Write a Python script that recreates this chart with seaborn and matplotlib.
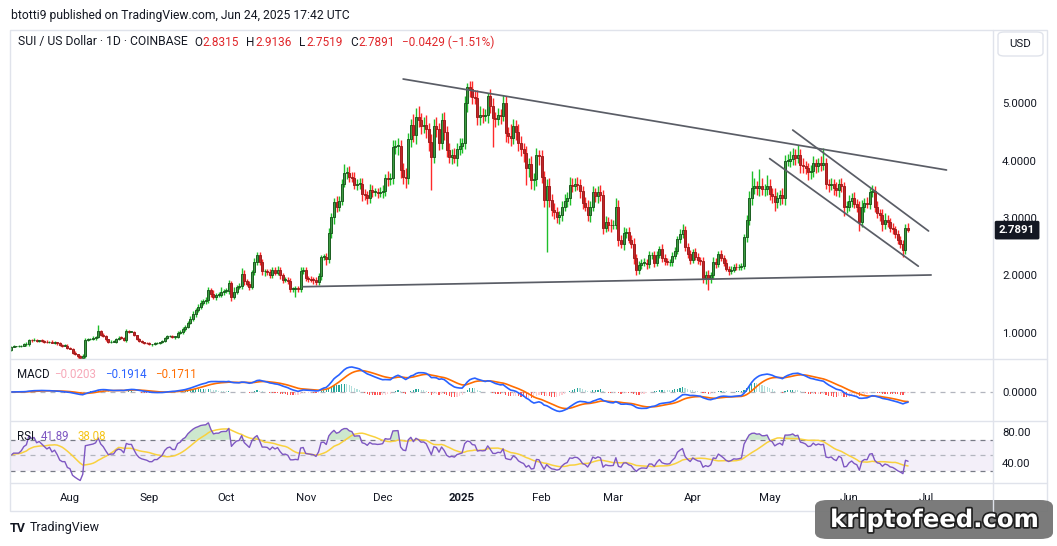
import numpy as np
import pandas as pd
import matplotlib
matplotlib.use("Agg")
import matplotlib.pyplot as plt
import matplotlib.transforms as mtransforms
import matplotlib.patheffects as pe
from matplotlib.patches import FancyBboxPatch, Rectangle
from matplotlib.lines import Line2D
import seaborn as sns

# ------------------------------------------------------------------ data
start_date = "2024-07-09"
first_open = 0.70

close_jul = [0.76,0.77,0.77,0.77,0.78,0.80,0.81,0.88,0.87,0.88,0.86,0.87,0.86,0.85,0.84,0.85,0.83,0.84,0.82,0.79,0.78,0.78,0.74]
close_aug = [0.73,0.66,0.63,0.60,0.57,0.60,0.88,0.89,0.90,0.91,0.93,1.03,0.97,0.94,0.89,0.84,0.85,0.85,0.90,0.92,0.91,0.88,1.03,1.02,1.02,0.96,0.90,0.86,0.84,0.83,0.82]
close_sep = [0.80,0.80,0.82,0.82,0.84,0.86,0.91,0.94,0.95,0.93,0.93,1.00,1.02,1.07,1.10,1.18,1.25,1.33,1.40,1.45,1.52,1.55,1.57,1.75,1.68,1.63,1.66,1.66,1.72,1.73]
close_oct = [1.73,1.87,1.63,1.72,1.80,1.82,2.03,1.90,1.85,1.80,2.06,2.24,2.36,2.24,2.07,2.07,2.06,2.00,2.10,2.05,2.10,2.00,1.92,1.93,1.90,1.77,1.77,1.78,1.77,2.08,2.10]
close_nov = [1.95,1.94,1.93,1.92,1.88,1.99,2.32,2.33,2.28,2.74,3.02,3.28,3.20,3.30,3.60,3.78,3.78,3.72,3.70,3.58,3.60,3.60,3.42,3.40,3.35,3.49,3.45,3.45,3.44,3.45]
close_dec = [3.47,3.69,3.68,3.69,4.23,4.25,4.26,3.83,3.72,3.70,4.37,4.61,4.44,4.76,4.70,4.60,4.62,4.55,4.32,4.06,4.60,4.55,4.30,4.70,4.50,4.18,4.06,4.10,4.05,4.20,4.25]
close_jan = [4.30,5.00,5.28,5.25,5.10,5.08,4.76,4.80,4.78,4.80,5.12,4.95,4.74,4.73,4.80,4.78,5.00,4.48,4.43,4.40,4.60,4.50,4.30,4.20,4.13,3.87,3.94,3.66,3.68,4.09,4.07]
close_feb = [3.71,3.31,3.55,3.31,3.14,3.10,3.02,3.05,3.20,3.30,3.35,3.57,3.55,3.60,3.58,3.47,3.26,3.20,3.05,3.20,3.45,3.38,3.45,3.40,2.83,2.93,2.88,2.87]
close_mar = [2.88,3.19,2.62,2.55,2.74,2.75,2.62,2.55,2.30,2.09,2.18,2.22,2.22,2.20,2.35,2.35,2.22,2.36,2.46,2.30,2.25,2.23,2.24,2.34,2.42,2.63,2.72,2.79,2.50,2.37,2.27]
close_apr = [2.40,2.33,2.27,2.25,1.95,2.00,1.95,2.00,2.23,2.20,2.37,2.30,2.22,2.12,2.07,2.10,2.15,2.14,2.15,2.17,2.67,2.97,3.35,3.52,3.55,3.52,3.55,3.50,3.50,3.55]
close_may = [3.42,3.38,3.27,3.35,3.40,3.35,4.00,4.00,4.02,4.10,4.05,4.10,3.92,3.90,3.87,3.80,3.82,3.95,3.90,3.95,3.93,3.95,3.60,3.58,3.60,3.52,3.48,3.60,3.55,3.19,3.20]
close_jun = [3.30,3.35,3.25,3.20,2.93,3.20,3.26,3.25,3.45,3.47,3.20,3.08,3.05,2.90,2.97,2.93,2.83,2.80,2.72,2.62,2.55,2.45,2.8315,2.7891]

wick_up_jul = [0.01,0.02,0.01,0.02,0.01,0.02,0.03,0.02,0.02,0.03,0.02,0.01,0.02,0.02,0.03,0.01,0.02,0.02,0.01,0.02,0.01,0.02,0.02]
wick_dn_jul = [0.02,0.01,0.02,0.01,0.02,0.01,0.02,0.03,0.02,0.01,0.02,0.02,0.01,0.03,0.02,0.02,0.01,0.02,0.03,0.01,0.02,0.01,0.02]
wick_up_aug = [0.02,0.01,0.02,0.01,0.02,0.03,0.03,0.02,0.02,0.03,0.02,0.11,0.02,0.03,0.02,0.01,0.02,0.03,0.02,0.03,0.02,0.02,0.04,0.03,0.02,0.02,0.01,0.02,0.02,0.01,0.02]
wick_dn_aug = [0.01,0.02,0.02,0.03,0.04,0.02,0.03,0.02,0.01,0.02,0.03,0.02,0.02,0.01,0.03,0.02,0.02,0.01,0.03,0.02,0.02,0.02,0.03,0.02,0.01,0.02,0.03,0.02,0.01,0.02,0.02]
wick_up_sep = [0.02,0.01,0.02,0.02,0.01,0.02,0.02,0.03,0.02,0.01,0.02,0.04,0.03,0.03,0.04,0.03,0.04,0.05,0.04,0.06,0.05,0.04,0.06,0.05,0.04,0.06,0.03,0.05,0.08,0.04]
wick_dn_sep = [0.01,0.02,0.01,0.02,0.02,0.01,0.02,0.02,0.01,0.02,0.03,0.02,0.02,0.04,0.03,0.02,0.03,0.04,0.05,0.04,0.03,0.04,0.05,0.04,0.06,0.04,0.05,0.03,0.04,0.06]
wick_up_oct = [0.05,0.06,0.04,0.08,0.04,0.05,0.10,0.06,0.04,0.05,0.04,0.06,0.04,0.05,0.04,0.05,0.04,0.06,0.05,0.04,0.06,0.05,0.04,0.05,0.04,0.05,0.03,0.04,0.03,0.06,0.05]
wick_dn_oct = [0.04,0.05,0.08,0.04,0.05,0.04,0.05,0.06,0.04,0.05,0.04,0.05,0.06,0.05,0.06,0.08,0.05,0.04,0.05,0.04,0.05,0.06,0.05,0.04,0.05,0.06,0.05,0.14,0.05,0.06,0.05]
wick_up_nov = [0.05,0.04,0.05,0.04,0.05,0.06,0.04,0.05,0.06,0.08,0.07,0.06,0.10,0.08,0.07,0.16,0.10,0.12,0.08,0.10,0.08,0.09,0.10,0.08,0.07,0.10,0.09,0.08,0.07,0.09]
wick_dn_nov = [0.04,0.05,0.04,0.06,0.05,0.04,0.06,0.05,0.10,0.06,0.08,0.12,0.10,0.08,0.07,0.06,0.10,0.09,0.08,0.07,0.10,0.09,0.12,0.08,0.10,0.09,0.08,0.07,0.09,0.08]
wick_up_dec = [0.10,0.08,0.12,0.10,0.12,0.10,0.14,0.10,0.12,0.15,0.10,0.12,0.20,0.15,0.18,0.12,0.14,0.18,0.10,0.14,0.12,0.15,0.10,0.12,0.14,0.10,0.12,0.10,0.12,0.10,0.14]
wick_dn_dec = [0.10,0.08,0.12,0.10,0.10,0.12,0.15,0.14,0.12,0.18,0.10,0.14,0.12,0.15,0.12,0.14,0.12,0.16,0.15,0.57,0.10,0.14,0.12,0.10,0.14,0.12,0.10,0.12,0.10,0.14,0.10]
wick_up_jan = [0.10,0.12,0.07,0.10,0.14,0.12,0.15,0.14,0.12,0.10,0.05,0.12,0.14,0.10,0.12,0.10,0.14,0.12,0.10,0.20,0.12,0.10,0.14,0.12,0.10,0.12,0.10,0.14,0.10,0.12,0.10]
wick_dn_jan = [0.12,0.10,0.15,0.14,0.12,0.10,0.15,0.14,0.12,0.10,0.14,0.12,0.50,0.15,0.12,0.14,0.10,0.15,0.12,0.14,0.12,0.15,0.14,0.12,0.15,0.30,0.15,0.15,0.17,0.12,0.15]
wick_up_feb = [0.12,0.10,0.12,0.14,0.10,0.12,0.10,0.08,0.10,0.12,0.10,0.14,0.12,0.10,0.12,0.10,0.08,0.10,0.12,0.10,0.10,0.08,0.10,0.12,0.08,0.10,0.08,0.10]
wick_dn_feb = [0.10,0.12,0.90,0.12,0.10,0.12,0.10,0.12,0.10,0.08,0.10,0.12,0.10,0.08,0.10,0.12,0.10,0.08,0.10,0.12,0.08,0.10,0.12,0.10,0.10,0.08,0.10,0.12]
wick_up_mar = [0.08,0.15,0.12,0.08,0.10,0.08,0.10,0.08,0.10,0.08,0.07,0.06,0.08,0.06,0.07,0.06,0.08,0.07,0.06,0.08,0.07,0.06,0.05,0.06,0.07,0.06,0.08,0.10,0.07,0.06,0.08]
wick_dn_mar = [0.06,0.08,0.10,0.08,0.10,0.08,0.06,0.08,0.10,0.08,0.06,0.07,0.06,0.08,0.07,0.06,0.07,0.06,0.05,0.07,0.06,0.05,0.06,0.07,0.06,0.05,0.07,0.06,0.07,0.06,0.07]
wick_up_apr = [0.06,0.07,0.06,0.05,0.07,0.08,0.10,0.06,0.10,0.08,0.06,0.07,0.05,0.06,0.05,0.06,0.05,0.06,0.05,0.04,0.05,0.08,0.12,0.30,0.14,0.10,0.30,0.14,0.10,0.20]
wick_dn_apr = [0.05,0.06,0.07,0.06,0.08,0.10,0.20,0.08,0.06,0.07,0.06,0.05,0.06,0.05,0.06,0.05,0.04,0.05,0.04,0.05,0.06,0.08,0.10,0.12,0.10,0.12,0.14,0.10,0.12,0.10]
wick_up_may = [0.12,0.10,0.14,0.10,0.08,0.12,0.10,0.12,0.15,0.12,0.10,0.17,0.10,0.12,0.10,0.08,0.10,0.12,0.08,0.10,0.12,0.27,0.10,0.08,0.10,0.08,0.10,0.08,0.10,0.08,0.10]
wick_dn_may = [0.10,0.12,0.15,0.10,0.12,0.10,0.12,0.10,0.12,0.10,0.12,0.10,0.14,0.12,0.10,0.14,0.12,0.10,0.12,0.10,0.12,0.10,0.10,0.12,0.10,0.12,0.10,0.12,0.10,0.15,0.10]
wick_up_jun = [0.10,0.08,0.10,0.08,0.10,0.12,0.08,0.10,0.08,0.10,0.08,0.10,0.08,0.10,0.12,0.08,0.07,0.08,0.06,0.07,0.06,0.07,0.06,0.0821]
wick_dn_jun = [0.08,0.10,0.08,0.10,0.15,0.08,0.10,0.08,0.10,0.08,0.10,0.08,0.10,0.12,0.10,0.08,0.07,0.08,0.06,0.07,0.08,0.13,0.08,0.0372]

month_labels = ["Aug", "Sep", "Oct", "Nov", "Dec", "2025", "Feb", "Mar", "Apr", "May", "Jun", "Jul"]
month_dates = ["2024-08-01", "2024-09-01", "2024-10-01", "2024-11-01", "2024-12-01", "2025-01-01",
               "2025-02-01", "2025-03-01", "2025-04-01", "2025-05-01", "2025-06-01", "2025-07-01"]
price_ticks = [1, 2, 3, 4, 5]
rsi_ticks = [40, 80]

# drawn trend lines: (start date, end date) and (start price, end price)
trend_dates = [("2024-12-09", "2025-07-09"), ("2024-10-31", "2025-07-03"),
               ("2025-05-10", "2025-07-02"), ("2025-05-01", "2025-06-28")]
trend_prices = [(5.417, 3.835), (1.805, 2.009), (4.53, 2.774), (4.033, 2.162)]

header_text = "btotti9 published on TradingView.com, Jun 24, 2025 17:42 UTC"
symbol_text = "SUI / US Dollar · 1D · COINBASE"
ohlc_labels = ["O", "H", "L", "C"]
ohlc_values = ["2.8315", "2.9136", "2.7519", "2.7891"]
change_text = "−0.0429 (−1.51%)"
last_price = 2.7891
macd_values = ["−0.0203", "−0.1914", "−0.1711"]
rsi_values = ["41.89", "38.08"]

# ------------------------------------------------------------------ series
closes = np.array(close_jul + close_aug + close_sep + close_oct + close_nov + close_dec +
                  close_jan + close_feb + close_mar + close_apr + close_may + close_jun)
wick_up = np.array(wick_up_jul + wick_up_aug + wick_up_sep + wick_up_oct + wick_up_nov + wick_up_dec +
                   wick_up_jan + wick_up_feb + wick_up_mar + wick_up_apr + wick_up_may + wick_up_jun)
wick_dn = np.array(wick_dn_jul + wick_dn_aug + wick_dn_sep + wick_dn_oct + wick_dn_nov + wick_dn_dec +
                   wick_dn_jan + wick_dn_feb + wick_dn_mar + wick_dn_apr + wick_dn_may + wick_dn_jun)
opens = np.r_[first_open, closes[:-1]]
highs = np.maximum(opens, closes) + wick_up
lows = np.minimum(opens, closes) - wick_dn
t0 = pd.Timestamp(start_date)
idx = np.arange(len(closes))

def day(d):
    return (pd.Timestamp(d) - t0).days

s = pd.Series(closes)
macd = s.ewm(span=12, adjust=False).mean() - s.ewm(span=26, adjust=False).mean()
signal = macd.ewm(span=9, adjust=False).mean()
hist = macd - signal

# Wilder RSI(14), seeded neutral from the first two weeks of moves
delta = np.r_[0.0, np.diff(closes)]
gains = np.clip(delta, 0, None)
losses = np.clip(-delta, 0, None)
seed = np.abs(delta[1:15]).mean() / 2
ag, al = seed, seed
rsi_list = []
for g, l in zip(gains, losses):
    ag = (ag * 13 + g) / 14
    al = (al * 13 + l) / 14
    rsi_list.append(100 - 100 / (1 + ag / al))
rsi = pd.Series(rsi_list)
rsi_ma = rsi.rolling(14, min_periods=1).mean()

# ------------------------------------------------------------------ figure
W, H = 1057, 546
sns.set_theme(style="white")
plt.rcParams['font.family'] = ['Roboto', 'DejaVu Sans']
plt.rcParams['axes.unicode_minus'] = True
TXT = '#131722'
LINE = '#e0e3eb'

fig = plt.figure(figsize=(W / 100, H / 100), dpi=100)
fig.patch.set_facecolor('white')
renderer = fig.canvas.get_renderer()

def axes_px(x0, y0, x1, y1):
    return fig.add_axes([x0 / W, 1 - y1 / H, (x1 - x0) / W, (y1 - y0) / H])

def fpt(x, y):
    return x / W, 1 - y / H

def text_row(x, y, parts, size, gap_after):
    """Place coloured text pieces one after another (pixel layout)."""
    for (txt, col), gap in zip(parts, gap_after):
        t = fig.text(*fpt(x, y), txt, ha='left', va='center', fontsize=size, color=col)
        bb = t.get_window_extent(renderer=renderer)
        x = x + bb.width + gap

PL, PR = 10, 993
ax = axes_px(PL, 30, PR, 359)
axm = axes_px(PL, 359, PR, 421)
axr = axes_px(PL, 421, PR, 483)

x_left = (PL - 11) / 2.563
x_right = (PR - 11) / 2.563
for a in (ax, axm, axr):
    a.set_facecolor('none')
    a.set_xlim(x_left, x_right)
    for sp in a.spines.values():
        sp.set_visible(False)
    a.grid(False)
    a.yaxis.tick_right()
    a.tick_params(axis='y', length=0, pad=6.5, labelsize=8.2, labelcolor=TXT,
                  labelleft=False, labelright=True)
    a.tick_params(axis='x', length=0, labelbottom=False)

# ---- price pane
ax.set_ylim(0.5478, 6.2696)
ax.set_yticks(price_ticks)
ax.set_yticklabels([f"{v:.4f}" for v in price_ticks])

up = closes >= opens
wick_col = np.where(up, '#1fbf2a', '#ff2a2a')
body_col = np.where(up, '#3f9c44', '#c0262a')
edge_col = np.where(up, '#1b5e20', '#a31d1d')
ax.vlines(idx, lows, highs, colors=wick_col, linewidth=1.0, zorder=2)
body_lo = np.minimum(opens, closes)
body_h = np.maximum(np.abs(closes - opens), 0.012)
ax.bar(idx, body_h, bottom=body_lo, width=0.78, color=body_col, edgecolor=edge_col,
       linewidth=0.7, zorder=3)

for (d0, d1), (p0, p1) in zip(trend_dates, trend_prices):
    ax.plot([day(d0), day(d1)], [p0, p1], color='#5a5d66', linewidth=1.25, zorder=4,
            solid_capstyle='round')

blend = mtransforms.blended_transform_factory(ax.transAxes, ax.transData)
ax.text((999 - PL) / (PR - PL), last_price, f"{last_price:.4f}", transform=blend, ha='left',
        va='center', color='white', fontsize=8.2, fontweight='bold', zorder=10,
        bbox=dict(boxstyle='round,pad=0.38,rounding_size=0.15', fc=TXT, ec='none'),
        clip_on=False)

# ---- MACD pane
mx = max(macd.max(), signal.max(), hist.max())
mn = min(macd.min(), signal.min(), hist.min())
sc = max(mx / (392 - 367), -mn / (413 - 392))
axm.set_ylim(-(421 - 392) * sc, (392 - 359) * sc)
axm.set_yticks([0])
axm.set_yticklabels(["0.0000"])
axm.axhline(0, color='#b2b5be', linewidth=0.9, dashes=(4, 4), zorder=1)
prev = hist.shift(1).fillna(0)
hcol = np.where(hist >= 0, np.where(hist > prev, '#26a69a', '#b2dfdb'),
                np.where(hist < prev, '#ff5252', '#ffcdd2'))
axm.bar(idx, hist.values, width=0.45, color=hcol, linewidth=0, zorder=2)
sns.lineplot(x=idx, y=macd.values, ax=axm, color='#2962ff', linewidth=1.2, zorder=4)
sns.lineplot(x=idx, y=signal.values, ax=axm, color='#ff6d00', linewidth=1.2, zorder=3)
axm.set_xlabel('')
axm.set_ylabel('')

# ---- RSI pane
axr.set_ylim(14.2, 94.2)
axr.set_yticks(rsi_ticks)
axr.set_yticklabels([f"{v:.2f}" for v in rsi_ticks])
axr.axhspan(30, 70, color='#7e57c2', alpha=0.09, linewidth=0, zorder=0)
axr.axhline(70, color='#787b86', linewidth=0.9, dashes=(4, 4), zorder=1)
axr.axhline(50, color='#b2b5be', linewidth=0.9, dashes=(4, 4), zorder=1)
axr.axhline(30, color='#787b86', linewidth=0.9, dashes=(4, 4), zorder=1)
rv = rsi.values
axr.fill_between(idx, 70, rv, where=rv > 70, interpolate=True, color='#a5d6a7', alpha=0.55,
                 linewidth=0, zorder=1)
sns.lineplot(x=idx, y=rsi_ma.values, ax=axr, color='#f9d13e', linewidth=1.1, zorder=3)
sns.lineplot(x=idx, y=rv, ax=axr, color='#7e57c2', linewidth=1.0, zorder=4)
axr.set_xlabel('')
axr.set_ylabel('')
axr.set_xticks([day(d) for d in month_dates])
axr.set_xticklabels(month_labels)
axr.tick_params(axis='x', length=0, pad=7, labelsize=8.2, labelcolor=TXT, labelbottom=True)
for lab in axr.get_xticklabels():
    if lab.get_text() == "2025":
        lab.set_fontweight('bold')

# ---- frame & separators
fig.add_artist(Rectangle(fpt(10, 511), (1047 - 10) / W, (511 - 30) / H, transform=fig.transFigure,
                         fill=False, ec=LINE, lw=1.0))
for yy in (359, 421, 483):
    fig.add_artist(Line2D([10 / W, 1047 / W], [1 - yy / H] * 2, color=LINE, lw=1.0))
fig.add_artist(Line2D([PR / W, PR / W], [1 - 30 / H, 1 - 511 / H], color=LINE, lw=1.0))

# USD box
fig.add_artist(FancyBboxPatch(fpt(998, 56), 45 / W, 24 / H, transform=fig.transFigure,
                              boxstyle='round,pad=0,rounding_size=0.006', fc='white',
                              ec=LINE, lw=1.0))
fig.text(*fpt(1020.5, 44), "USD", ha='center', va='center', fontsize=8.2, color=TXT)

# header / legends
RED = '#e0262a'
fig.text(*fpt(11, 15), header_text, ha='left', va='center', fontsize=8.7, color=TXT)
fig.text(*fpt(18, 42), symbol_text, ha='left', va='center', fontsize=8.7, color=TXT)
row = []
gaps = []
for lab, val in zip(ohlc_labels, ohlc_values):
    row += [(lab, TXT), (val, RED)]
    gaps += [0.5, 7.5]
row.append((change_text, RED))
gaps.append(0)
text_row(194, 42, row, 8.5, gaps)

fig.text(*fpt(17, 375), "MACD", ha='left', va='center', fontsize=8.3, color=TXT)
for xx, val, c in zip([54, 105, 155], macd_values, ['#f7a8b8', '#2962ff', '#ff6d00']):
    fig.text(*fpt(xx, 375), val, ha='left', va='center', fontsize=8.3, color=c)
fig.text(*fpt(17, 437), "RSI", ha='left', va='center', fontsize=8.3, color=TXT)
for xx, val, c in zip([41, 78], rsi_values, ['#7e57c2', '#f5c518']):
    fig.text(*fpt(xx, 437), val, ha='left', va='center', fontsize=8.3, color=c)

# TradingView footer
fig.text(*fpt(10, 528), "TV", ha='left', va='center', fontsize=9, fontweight='bold', color=TXT)
fig.text(*fpt(30, 528), "TradingView", ha='left', va='center', fontsize=9, color=TXT)

# watermark
fig.add_artist(FancyBboxPatch(fpt(815, 539), (1053 - 815) / W, (539 - 500) / H,
                              transform=fig.transFigure,
                              boxstyle='round,pad=0,rounding_size=0.012', fc='#747474',
                              ec='none', alpha=0.95))
fig.text(*fpt(934, 520), "kriptofeed.com", ha='center', va='center', fontsize=17.5,
         fontweight='bold', family='DejaVu Sans', color='white',
         path_effects=[pe.withStroke(linewidth=2.5, foreground='#202020')])

fig.savefig("out.png", dpi=100)
